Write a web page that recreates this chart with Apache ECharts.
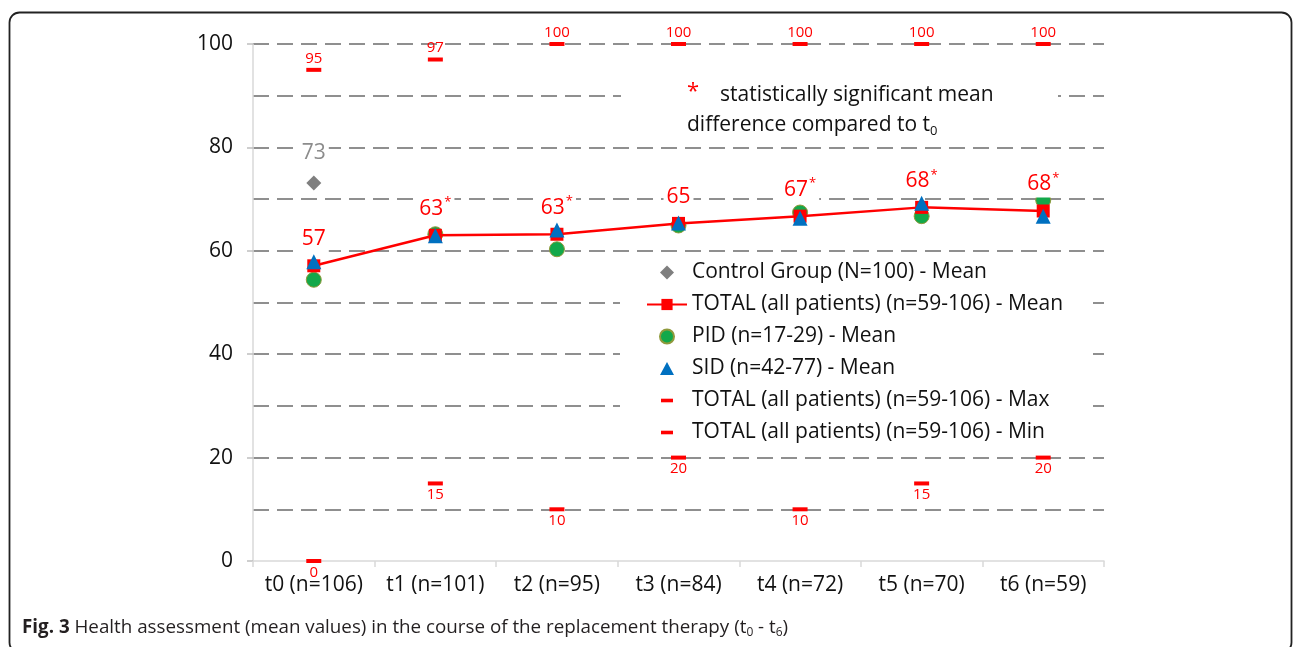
<!DOCTYPE html>
<html>
<head>
<meta charset="utf-8">
<script src="https://cdn.jsdelivr.net/npm/echarts@6/dist/echarts.min.js"></script>
<style>html,body{margin:0;padding:0;background:#fff}#c{width:1295px;height:647px}</style>
</head>
<body>
<div id="c"></div>
<script>
const categories = ['t0 (n=106)', 't1 (n=101)', 't2 (n=95)', 't3 (n=84)', 't4 (n=72)', 't5 (n=70)', 't6 (n=59)'];
const controlMean = [73.1, null, null, null, null, null, null];
const totalMean = [57.1, 63.0, 63.2, 65.3, 66.7, 68.4, 67.7];
const significant = [false, true, true, false, true, true, true];
const pidMean = [54.4, 63.2, 60.3, 64.9, 67.4, 66.7, 69.8];
const sidMean = [57.9, 62.9, 64.0, 65.4, 66.3, 69.2, 66.7];
const totalMax = [95, 97, 100, 100, 100, 100, 100];
const totalMin = [0, 15, 10, 20, 10, 15, 20];
const yTicks = [0, 20, 40, 60, 80, 100];

const names = {
  control: 'Control Group (N=100) - Mean',
  total: 'TOTAL (all patients) (n=59-106) - Mean',
  pid: 'PID (n=17-29) - Mean',
  sid: 'SID (n=42-77) - Mean',
  max: 'TOTAL (all patients) (n=59-106) - Max',
  min: 'TOTAL (all patients) (n=59-106) - Min'
};

const FONT = 'Open Sans';
const RED = '#ff0000';
const GRIDC = '#8f8f8f';

const chart = echarts.init(document.getElementById('c'), null, {renderer: 'canvas'});

const option = {
  backgroundColor: '#fff',
  animation: false,
  textStyle: {fontFamily: FONT},
  grid: {left: 253, right: 191, top: 44, bottom: 86},
  xAxis: {
    type: 'category',
    data: categories,
    boundaryGap: true,
    axisLine: {lineStyle: {color: '#d9d9d9', width: 1.5}},
    axisTick: {show: true, interval: 0, length: 6, lineStyle: {color: '#d9d9d9', width: 1.5}},
    axisLabel: {interval: 0, margin: 14, fontSize: 21, color: '#111', fontFamily: FONT},
    splitLine: {show: false}
  },
  yAxis: {
    type: 'value',
    min: yTicks[0],
    max: yTicks[yTicks.length - 1],
    interval: 20,
    axisLine: {show: true, lineStyle: {color: '#d9d9d9', width: 1.5}},
    axisTick: {show: true, length: 6, lineStyle: {color: '#bfbfbf', width: 1.5}},
    axisLabel: {margin: 20, fontSize: 21, color: '#111', fontFamily: FONT},
    splitLine: {show: true, showMinLine: false, lineStyle: {color: GRIDC, width: 2, type: [16, 8]}},
    minorTick: {show: false, splitNumber: 2},
    minorSplitLine: {show: true, lineStyle: {color: GRIDC, width: 2, type: [16, 8]}}
  },
  legend: {
    orient: 'vertical',
    left: 620,
    top: 256,
    padding: [6, 24, 6, 26],
    backgroundColor: '#fff',
    itemWidth: 40,
    itemHeight: 14,
    itemGap: 11,
    z: 5,
    textStyle: {fontSize: 21, lineHeight: 20, color: '#111', fontFamily: FONT},
    data: [
      {name: names.control, icon: 'path://M0,0M40,14M20,0L27,7L20,14L13,7Z'},
      {name: names.total},
      {name: names.pid, icon: 'path://M0,0M40,14M27,7A7,7,0,1,1,13,7A7,7,0,1,1,27,7Z'},
      {name: names.sid, icon: 'path://M0,0M40,14M20,0.5L27,13.5L13,13.5Z'},
      {name: names.max, icon: 'path://M0,0M40,14M14,5.2H26V8.8H14Z'},
      {name: names.min, icon: 'path://M0,0M40,14M14,5.2H26V8.8H14Z'}
    ]
  },
  graphic: [
    {type: 'rect', z: 3, shape: {x: 621, y: 62, width: 437, height: 76}, style: {fill: '#fff'}},
    {type: 'text', z: 4, x: 687, y: 81, style: {text: '*', fill: RED, font: '22px "' + FONT + '"'}},
    {type: 'text', z: 4, x: 720, y: 85, style: {text: 'statistically significant mean', fill: '#111', font: '21px "' + FONT + '"'}},
    {type: 'text', z: 4, x: 687, y: 111, style: {
      text: '{a|difference compared to t}{b|0}',
      rich: {
        a: {fontSize: 21, fontFamily: FONT, fill: '#111', height: 28},
        b: {fontSize: 13, fontFamily: FONT, fill: '#111', padding: [12, 0, 0, 0]}
      }
    }},
    {type: 'text', z: 4, x: 22, y: 615, style: {
      text: '{b|Fig. 3} Health assessment (mean values) in the course of the replacement therapy (t{s|0} - t{s|6})',
      fill: '#231f20',
      font: '18.8px "' + FONT + '"',
      rich: {
        b: {fontWeight: 'bold', fontSize: 18.8, fontFamily: FONT, fill: '#231f20', height: 26},
        s: {fontSize: 12, fontFamily: FONT, fill: '#231f20', padding: [10, 0, 0, 0]}
      }
    }},
    {type: 'rect', z: 10, shape: {x: 9.5, y: 12.5, width: 1282, height: 640, r: 10}, style: {fill: 'none', stroke: '#222', lineWidth: 1.8}}
  ],
  series: [
    {
      name: names.control,
      type: 'scatter',
      data: controlMean.map(v => v == null ? '-' : v),
      symbol: 'diamond',
      symbolSize: [15, 15],
      itemStyle: {color: '#7f7f7f', opacity: 1},
      z: 3,
      label: {
        show: true, position: 'top', distance: 12,
        formatter: p => String(Math.round(p.value)),
        fontSize: 21, color: '#8c8c8c', fontFamily: FONT,
        backgroundColor: '#fff', padding: [0, 3]
      }
    },
    {
      name: names.pid,
      type: 'scatter',
      data: pidMean,
      symbol: 'circle',
      symbolSize: 15,
      itemStyle: {color: '#13a84a', borderColor: '#8f9a3c', borderWidth: 1, opacity: 1},
      z: 3
    },
    {
      name: names.total,
      type: 'line',
      data: totalMean,
      symbol: 'rect',
      symbolSize: 13,
      lineStyle: {color: RED, width: 2.5},
      itemStyle: {color: RED},
      z: 4,
      label: {
        show: true, position: 'top', distance: 7,
        formatter: p => '{a|' + Math.round(p.value) + '}' + (significant[p.dataIndex] ? '{s|*}' : ''),
        backgroundColor: '#fff', padding: [0, 3],
        rich: {
          a: {fontSize: 21, color: RED, fontFamily: FONT, height: 26},
          s: {fontSize: 13, color: RED, fontFamily: FONT, height: 14, padding: [0, 0, 12, 1]}
        }
      }
    },
    {
      name: names.sid,
      type: 'scatter',
      data: sidMean,
      symbol: 'triangle',
      symbolSize: [15, 15],
      itemStyle: {color: '#0070c0', opacity: 1},
      z: 5
    },
    {
      name: names.max,
      type: 'scatter',
      data: totalMax,
      symbol: 'rect',
      symbolSize: [15, 4],
      itemStyle: {color: RED, opacity: 1},
      z: 5,
      label: {show: true, position: 'top', distance: 2, fontSize: 15, color: RED, fontFamily: FONT}
    },
    {
      name: names.min,
      type: 'scatter',
      data: totalMin,
      symbol: 'rect',
      symbolSize: [15, 4],
      itemStyle: {color: RED, opacity: 1},
      z: 5,
      label: {show: true, position: 'bottom', distance: 2, fontSize: 15, color: RED, fontFamily: FONT}
    }
  ]
};
chart.setOption(option);
</script>
</body>
</html>
